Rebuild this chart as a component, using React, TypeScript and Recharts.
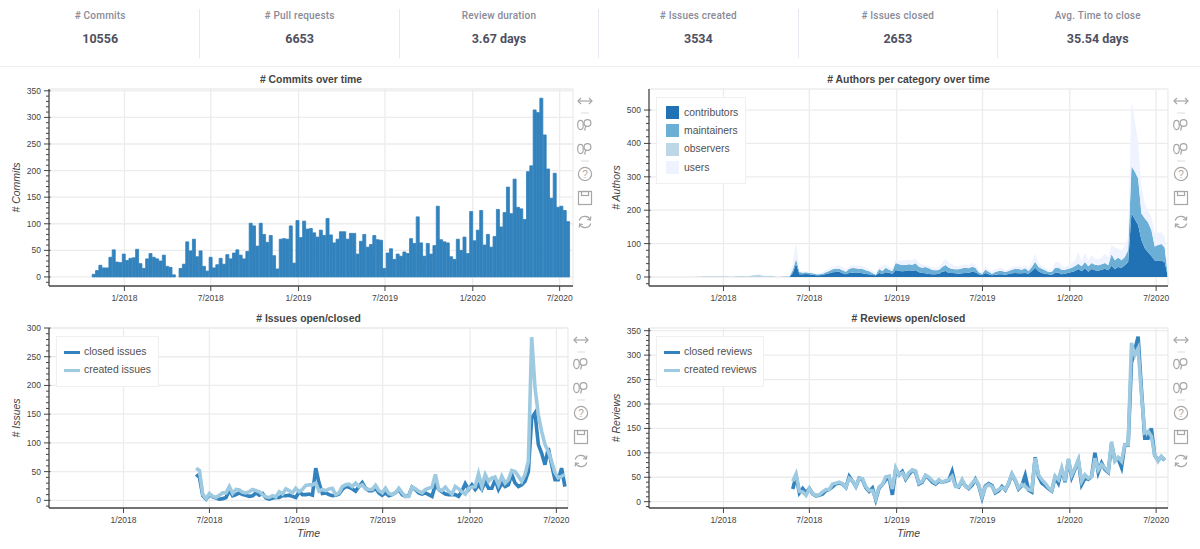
// Repository activity dashboard: stat strip and four weekly charts
import type { ReactNode } from "react";
import {
  Area,
  Bar,
  CartesianGrid,
  ComposedChart,
  Line,
  ReferenceLine,
  XAxis,
  YAxis,
} from "recharts";

// weeks are stored as days since 1/2018
const weekDays = Array.from({ length: 144 }, (_, i) => -64 + i * 7);
const tickDays = [0, 181, 365, 546, 730, 912];
const tickLabels = ["1/2018", "7/2018", "1/2019", "7/2019", "1/2020", "7/2020"];

const statLabels = ["# Commits", "# Pull requests", "Review duration", "# Issues created", "# Issues closed", "Avg. Time to close"];
const statValues = ["10556", "6653", "3.67 days", "3534", "2653", "35.54 days"];

const commits = [
  5, 12, 22, 17, 17, 37, 51, 28, 27, 43, 31, 35, 36, 52, 25, 16, 34, 44, 37, 34,
  30, 41, 20, 18, 4, 0, 16, 24, 66, 49, 71, 38, 49, 20, 11, 37, 17, 23, 35, 24,
  42, 34, 45, 51, 41, 34, 48, 101, 96, 58, 101, 80, 65, 78, 40, 15, 71, 72, 71, 96,
  26, 106, 74, 105, 90, 91, 83, 75, 88, 78, 110, 79, 64, 71, 85, 85, 71, 82, 82, 43,
  67, 80, 56, 61, 78, 70, 69, 16, 45, 53, 33, 43, 39, 47, 44, 72, 63, 113, 64, 39,
  63, 43, 59, 133, 70, 66, 64, 38, 33, 71, 50, 75, 44, 123, 68, 88, 125, 60, 80, 56,
  76, 127, 94, 121, 169, 119, 184, 131, 128, 108, 198, 209, 314, 309, 336, 267, 203, 148, 195, 131,
  133, 125, 104,
];

const contributors = [
  0, 0, 0, 0, 0, 0, 0, 0, 0, 0, 0, 0, 0, 0, 0, 0, 0, 0, 0, 0, 0, 0, 0, 0, 0, 0, 0, 0, 0, 0,
  12, 40, 8, 8, 9, 8, 7, 5, 5, 6, 9, 11, 14, 15, 16, 11, 8, 12, 13, 12,
  13, 11, 9, 8, 6, 5, 12, 10, 14, 13, 10, 21, 18, 17, 18, 20, 19, 20, 14, 12,
  11, 9, 8, 8, 10, 16, 18, 12, 12, 11, 10, 11, 12, 13, 16, 14, 8,
  6, 12, 8, 5, 7, 8, 8, 7, 9, 11, 12, 11, 11, 12, 10, 18, 28, 17, 12, 10,
  8, 7, 12, 13, 8, 10, 13, 15, 18, 24, 17, 26, 16, 24, 20, 19, 22, 25, 20, 34,
  24, 30, 28, 35, 45, 191, 174, 156, 111, 86, 74, 63, 49, 49, 49, 44, 0,
];
const maintainers = [
  0, 0, 0, 0, 0, 0, 0, 0, 0, 0, 0, 0, 0, 0, 0, 0, 0, 0, 0, 0, 0, 0, 0, 0, 0, 0, 0, 0, 0, 0,
  8, 13, 7, 5, 5, 4, 4, 3, 3, 4, 5, 7, 9, 10, 9, 9, 8, 13, 14, 14,
  11, 13, 11, 9, 6, 2, 12, 8, 14, 9, 8, 21, 20, 19, 18, 18, 18, 21, 17, 16,
  19, 17, 13, 12, 11, 14, 18, 16, 12, 12, 13, 15, 16, 13, 15, 14, 6,
  4, 10, 8, 5, 8, 10, 10, 8, 9, 11, 13, 13, 11, 14, 8, 12, 18, 13, 13, 10,
  7, 8, 16, 15, 14, 12, 12, 13, 15, 16, 15, 19, 16, 18, 17, 16, 16, 17, 15, 34,
  26, 28, 22, 25, 35, 140, 142, 140, 79, 90, 89, 78, 42, 47, 50, 44, 0,
];
const observers = [
  0, 1, 1, 2, 2, 2, 2, 2, 2, 2, 2, 1, 1, 2, 3, 3, 2, 3, 5, 6, 7, 4, 3, 4, 3, 1, 0, 2, 3, 3,
  2, 2, 1, 0, 0, 0, 0, 0, 0, 0, 0, 0, 0, 0, 0, 0, 0, 0, 0, 0,
  0, 0, 0, 0, 0, 0, 0, 0, 0, 0, 0, 0, 0, 0, 0, 0, 0, 0, 0, 0,
  0, 0, 0, 0, 0, 0, 0, 0, 0, 0, 0, 0, 0, 0, 0, 0, 0,
  0, 0, 0, 0, 0, 0, 0, 0, 0, 0, 0, 0, 0, 0, 0, 0, 0, 0, 0, 0,
  0, 0, 0, 0, 0, 0, 0, 0, 0, 0, 0, 0, 0, 0, 0, 0, 0, 0, 0, 0,
  0, 0, 0, 0, 0, 0, 0, 0, 0, 0, 0, 0, 0, 0, 0, 0, 0,
];
const users = [
  0, 0, 0, 0, 0, 0, 0, 0, 0, 0, 0, 0, 0, 0, 0, 0, 0, 0, 0, 0, 0, 0, 0, 0, 0, 0, 0, 0, 0, 0,
  18, 50, 3, 3, 3, 3, 3, 0, 4, 5, 6, 7, 7, 8, 10, 10, 6, 7, 8, 9,
  8, 9, 8, 7, 7, 5, 6, 16, 10, 8, 7, 10, 10, 14, 14, 14, 13, 15, 11, 10,
  6, 6, 9, 7, 9, 12, 19, 14, 14, 10, 10, 10, 10, 10, 11, 10, 6,
  4, 10, 8, 8, 9, 8, 8, 5, 6, 8, 8, 8, 8, 10, 10, 15, 24, 12, 9, 7,
  7, 6, 17, 18, 12, 8, 11, 14, 17, 35, 16, 27, 18, 24, 18, 17, 22, 28, 23, 27,
  38, 27, 30, 32, 40, 195, 154, 104, 80, 44, 33, 39, 40, 37, 35, 33, 0,
];

// issues start at week 31, reviews at week 30
const issuesFirstWeek = 31;
const closedIssues = [
  45, 40, 8, 2, 10, 6, 4, 2, 3, 5, 18, 8, 10, 13, 10, 9, 7, 8, 13, 9, 12, 4, 2, 4, 5, 5, 8, 8, 9, 7, 5, 15,
  10, 10, 11, 9, 56, 30, 12, 13, 10, 8, 9, 11, 19, 24, 23, 20, 16, 24, 31, 21,
  17, 17, 21, 13, 9, 13, 8, 10, 13, 19, 10, 7, 8, 23, 19, 13, 11, 13, 10, 7,
  27, 19, 15, 11, 10, 10, 10, 7, 16, 29, 19, 27, 19, 27, 19, 33, 21, 21, 36, 19,
  30, 24, 27, 45, 30, 24, 27, 33, 50, 143, 152, 97, 82, 62, 91, 62, 36, 36, 56, 24,
];
const createdIssues = [
  56, 52, 10, 3, 12, 7, 5, 9, 13, 13, 24, 12, 19, 18, 14, 13, 15, 19, 17, 15, 10, 6, 5, 8, 6, 15, 11, 20, 17, 13, 21, 15,
  19, 26, 27, 27, 30, 16, 19, 17, 20, 21, 10, 13, 24, 27, 28, 24, 30, 24, 27, 20,
  19, 19, 26, 17, 13, 21, 12, 10, 13, 21, 13, 7, 7, 23, 20, 16, 13, 19, 21, 23,
  45, 19, 17, 23, 16, 11, 24, 20, 15, 11, 21, 23, 24, 46, 24, 45, 33, 39, 40, 27,
  42, 30, 36, 52, 50, 42, 33, 45, 68, 284, 196, 149, 120, 97, 85, 68, 48, 39, 42, 45,
];

const reviewsFirstWeek = 30;
const closedReviews = [
  26, 52, 18, 27, 18, 27, 16, 12, 13, 16, 23, 25, 31, 37, 38, 36, 29, 52, 42, 31, 48, 45, 29, 21, 28, 4, 28, 35, 45, 50, 14, 65, 55,
  62, 46, 56, 64, 60, 36, 40, 53, 48, 40, 36, 42, 40, 42, 44, 62, 33, 30, 42, 32,
  27, 34, 46, 33, 8, 32, 37, 33, 18, 22, 31, 24, 37, 56, 43, 26, 33, 54, 24, 20,
  91, 52, 38, 33, 27, 22, 50, 38, 66, 40, 85, 50, 67, 84, 35, 48, 46, 52, 100, 60,
  79, 66, 60, 118, 85, 88, 70, 116, 116, 285, 310, 338, 230, 130, 130, 150, 95, 85, 92, 85,
];
const createdReviews = [
  42, 57, 21, 20, 13, 27, 16, 13, 14, 20, 25, 25, 36, 38, 40, 37, 29, 48, 43, 31, 48, 47, 31, 23, 23, 6, 30, 35, 51, 52, 26, 69, 55,
  59, 48, 60, 65, 63, 38, 42, 54, 50, 43, 38, 45, 40, 43, 45, 52, 31, 31, 45, 31,
  28, 38, 45, 35, 11, 30, 35, 31, 20, 25, 29, 25, 38, 57, 45, 28, 35, 31, 25, 23,
  89, 55, 45, 38, 29, 23, 52, 45, 69, 42, 88, 55, 69, 86, 42, 55, 48, 52, 89, 65,
  76, 69, 62, 123, 83, 91, 83, 117, 117, 325, 300, 314, 220, 141, 144, 134, 96, 83, 93, 86,
];

const commitYTicks = [0, 50, 100, 150, 200, 250, 300, 350];
const authorYTicks = [0, 100, 200, 300, 400, 500];
const issueYTicks = [0, 50, 100, 150, 200, 250, 300];
const reviewYTicks = [0, 50, 100, 150, 200, 250, 300, 350];

const DARK = "#3182bd";
const LIGHT = "#9ecae1";
const GRID = "#ececec";
const AXIS = "#444444";
const TEXT = "#444444";
const FONT = "'Liberation Sans', Arial, sans-serif";
const LINE_WIDTH = 3.6;

const commitRows = weekDays.slice(0, commits.length).map((day, i) => ({ day, commits: commits[i] }));
const authorRows = weekDays.map((day, i) => ({
  day,
  contributors: contributors[i],
  maintainers: maintainers[i],
  observers: observers[i],
  users: users[i],
}));
const issueRows = closedIssues.map((closed, i) => ({
  day: weekDays[i + issuesFirstWeek],
  closed,
  created: createdIssues[i],
}));
const reviewRows = closedReviews.map((closed, i) => ({
  day: weekDays[i + reviewsFirstWeek],
  closed,
  created: createdReviews[i],
}));

// major ticks plus the five-per-interval minor ticks, one below zero too
function withMinor(major: number[]) {
  const step = (major[1] - major[0]) / 5;
  const out: number[] = [-step];
  for (let v = 0; v <= major[major.length - 1]; v += step) out.push(v);
  return out;
}

type PanelProps = {
  title: string;
  yLabel: string;
  showTime?: boolean;
  left: number;
  top: number;
  plotLeft: number;
  plotRight: number;
  plotTop: number;
  plotBottom: number;
  toolbarX: number;
  data: object[];
  xDomain: [number, number];
  yDomain: [number, number];
  yTicks: number[];
  children: ReactNode;
  legend?: ReactNode;
};

function Panel(p: PanelProps) {
  const width = 600;
  const height = p.plotBottom - p.top + 24;
  const minorTicks = withMinor(p.yTicks);
  const center = (p.plotLeft + p.plotRight) / 2;

  return (
    <>
      <div
        style={{
          position: "absolute",
          left: center - 150,
          width: 300,
          top: p.plotTop - 16.5,
          textAlign: "center",
          font: `bold 10.4px ${FONT}`,
          lineHeight: "13px",
          color: "#444",
        }}
      >
        {p.title}
      </div>
      <div style={{ position: "absolute", left: p.left, top: p.top }}>
        <ComposedChart
          width={width}
          height={height}
          data={p.data}
          margin={{ top: p.plotTop - p.top, right: p.left + width - p.plotRight, bottom: 0, left: 0 }}
        >
          <CartesianGrid stroke={GRID} strokeWidth={1.3} horizontalValues={p.yTicks} verticalValues={tickDays} />
          <XAxis
            dataKey="day"
            type="number"
            domain={p.xDomain}
            allowDataOverflow
            ticks={tickDays}
            interval={0}
            tickFormatter={(d: number) => tickLabels[tickDays.indexOf(d)]}
            height={24}
            tickSize={5}
            tickMargin={3.5}
            tick={{ fontSize: 8.5, fill: TEXT, fontFamily: FONT }}
            axisLine={{ stroke: AXIS, strokeWidth: 1.3 }}
            tickLine={{ stroke: AXIS }}
          />
          <YAxis
            type="number"
            domain={p.yDomain}
            allowDataOverflow
            ticks={minorTicks}
            interval={0}
            width={p.plotLeft - p.left}
            tickSize={0}
            tickMargin={0}
            tickLine={false}
            axisLine={{ stroke: AXIS, strokeWidth: 1.3 }}
            label={{
              value: p.yLabel,
              angle: -90,
              position: "insideLeft",
              offset: 16,
              style: { textAnchor: "middle", fontSize: 10.5, fontStyle: "italic", fontFamily: FONT, fill: TEXT },
            }}
            tick={(t: any) => {
              const isMajor = p.yTicks.includes(t.payload.value);
              return (
                <g>
                  <line
                    x1={t.x - (isMajor ? 5 : 3)}
                    x2={t.x + (isMajor ? 1.5 : 0)}
                    y1={t.y}
                    y2={t.y}
                    stroke={AXIS}
                    strokeWidth={1}
                  />
                  {isMajor && (
                    <text x={t.x - 8} y={t.y + 3} textAnchor="end" fontSize={8.5} fontFamily={FONT} fill={TEXT}>
                      {t.payload.value}
                    </text>
                  )}
                </g>
              );
            }}
          />
          <ReferenceLine y={p.yDomain[1]} stroke={GRID} strokeWidth={1.3} ifOverflow="extendDomain" />
          <ReferenceLine x={p.xDomain[1]} stroke={GRID} strokeWidth={1.3} ifOverflow="extendDomain" />
          {p.children}
        </ComposedChart>
      </div>
      {p.showTime && (
        <div
          style={{
            position: "absolute",
            left: center - 50,
            width: 100,
            top: p.plotBottom + 19,
            textAlign: "center",
            font: `italic 10.5px ${FONT}`,
            lineHeight: "13px",
            color: TEXT,
          }}
        >
          Time
        </div>
      )}
      {p.legend}
      <Toolbar x={p.toolbarX} y={p.plotTop} />
    </>
  );
}

type LegendRow = { name: string; color: string };

function BoxLegend(props: {
  left: number;
  top: number;
  width: number;
  height: number;
  rows: LegendRow[];
  rowGap: number;
  line?: boolean;
}) {
  return (
    <div
      style={{
        position: "absolute",
        left: props.left,
        top: props.top,
        width: props.width,
        height: props.height,
        boxSizing: "border-box",
        background: "#fff",
        border: "1px solid #f0f0f0",
      }}
    >
      {props.rows.map((row, i) => (
        <div key={row.name} style={{ position: "absolute", left: 0, top: 8 + i * props.rowGap, height: 14, width: "100%" }}>
          {props.line ? (
            <div style={{ position: "absolute", left: 7, top: 5.5, width: 16, height: 3.6, background: row.color }} />
          ) : (
            <div style={{ position: "absolute", left: 9, top: 0, width: 13, height: 13, background: row.color }} />
          )}
          <span
            style={{
              position: "absolute",
              left: 27,
              top: -0.5,
              font: `10.4px ${FONT}`,
              lineHeight: "14px",
              color: "#505050",
              whiteSpace: "nowrap",
            }}
          >
            {row.name}
          </span>
        </div>
      ))}
    </div>
  );
}

// grey tool icons right of each plot
function Toolbar({ x, y }: { x: number; y: number }) {
  const c = "#a6a6a6";
  const zoomIcon = (cy: number) => (
    <g fill="none" stroke={c} strokeWidth={1.2}>
      <ellipse cx={10.5} cy={cy} rx={2.8} ry={4.6} />
      <circle cx={17.5} cy={cy - 2} r={3.4} />
      <line x1={15.8} y1={cy + 1} x2={14.6} y2={cy + 5.5} />
    </g>
  );
  return (
    <svg
      width={30}
      height={146}
      style={{ position: "absolute", left: x - 15, top: y }}
      viewBox="0 0 30 146"
    >
      <g stroke={c} strokeWidth={1.2} fill="none">
        <line x1={8} y1={12} x2={22} y2={12} />
        <path d="M11 9 L8 12 L11 15 M19 9 L22 12 L19 15" />
        <line x1={11} y1={24} x2={19} y2={24} stroke="#e2e2e2" />
        <line x1={11} y1={72} x2={19} y2={72} stroke="#e2e2e2" />
      </g>
      {zoomIcon(36)}
      {zoomIcon(60)}
      <circle cx={15} cy={85} r={6.6} fill="none" stroke={c} strokeWidth={1.2} />
      <text x={15} y={88.5} textAnchor="middle" fontSize={10} fontFamily={FONT} fill={c}>
        ?
      </text>
      <g fill="none" stroke={c} strokeWidth={1.2}>
        <rect x={8.5} y={102.5} width={13} height={13} />
        <rect x={11.5} y={102.5} width={7} height={4} />
        <path d="M9.2 131.5 A6 6 0 0 1 20.2 130.5 M20.8 134.5 A6 6 0 0 1 9.8 135.5" />
        <path d="M20.8 127.5 L20.4 131 L17 130.5 M9.2 138.5 L9.6 135 L13 135.5" />
      </g>
    </svg>
  );
}

function StatStrip() {
  return (
    <div style={{ position: "absolute", left: 0, top: 0, width: 1200, height: 65.5, borderBottom: "1px solid #eeeef2" }}>
      {statLabels.map((label, i) => (
        <div
          key={label}
          style={{
            position: "absolute",
            left: 1 + i * 199.4,
            top: 9,
            width: 199.4,
            height: 49,
            textAlign: "center",
            fontFamily: "Roboto, sans-serif",
            borderRight: i < statLabels.length - 1 ? "1px solid #e8e8f0" : "none",
            boxSizing: "border-box",
          }}
        >
          <div style={{ fontSize: 10, fontWeight: 500, letterSpacing: 0.2, color: "#8a8a98", lineHeight: "12px", marginTop: 0.5 }}>
            {label}
          </div>
          <div style={{ fontSize: 12.5, fontWeight: 700, color: "#50505f", lineHeight: "15px", marginTop: 9.5 }}>
            {statValues[i]}
          </div>
        </div>
      ))}
    </div>
  );
}

const authorLegend: LegendRow[] = [
  { name: "contributors", color: "#2171b5" },
  { name: "maintainers", color: "#6baed6" },
  { name: "observers", color: "#bdd7e7" },
  { name: "users", color: "#eff3ff" },
];

export default function App() {
  return (
    <div style={{ position: "absolute", left: 0, top: 0, width: 1200, height: 549, overflow: "hidden", background: "#fff" }}>
      <StatStrip />

      <Panel
        title="# Commits over time"
        yLabel="# Commits"
        left={0}
        top={72}
        plotLeft={49}
        plotRight={573}
        plotTop={89}
        plotBottom={286}
        toolbarX={585}
        data={commitRows}
        xDomain={[-158, 940]}
        yDomain={[-17, 353.4]}
        yTicks={commitYTicks}
      >
        <Bar dataKey="commits" fill={DARK} stroke={DARK} strokeWidth={0.8} barSize={3.4} isAnimationActive={false} />
      </Panel>

      <Panel
        title="# Authors per category over time"
        yLabel="# Authors"
        left={600}
        top={72}
        plotLeft={649}
        plotRight={1168}
        plotTop={89}
        plotBottom={286}
        toolbarX={1181}
        data={authorRows}
        xDomain={[-157, 937]}
        yDomain={[-27, 563]}
        yTicks={authorYTicks}
        legend={<BoxLegend left={656} top={97} width={90} height={87} rows={authorLegend} rowGap={18.4} />}
      >
        <Area dataKey="contributors" stackId="a" stroke="none" fill="#2171b5" fillOpacity={1} isAnimationActive={false} />
        <Area dataKey="maintainers" stackId="a" stroke="none" fill="#6baed6" fillOpacity={1} isAnimationActive={false} />
        <Area dataKey="observers" stackId="a" stroke="none" fill="#bdd7e7" fillOpacity={1} isAnimationActive={false} />
        <Area dataKey="users" stackId="a" stroke="none" fill="#eff3ff" fillOpacity={1} isAnimationActive={false} />
      </Panel>

      <Panel
        title="# Issues open/closed"
        yLabel="# Issues"
        showTime
        left={0}
        top={310}
        plotLeft={49}
        plotRight={568}
        plotTop={328}
        plotBottom={508}
        toolbarX={581}
        data={issueRows}
        xDomain={[-157, 936.5]}
        yDomain={[-13.3, 300]}
        yTicks={issueYTicks}
        legend={
          <BoxLegend
            left={56}
            top={336}
            width={103}
            height={51}
            line
            rows={[
              { name: "closed issues", color: DARK },
              { name: "created issues", color: LIGHT },
            ]}
            rowGap={18.4}
          />
        }
      >
        <Line dataKey="closed" stroke={DARK} strokeWidth={LINE_WIDTH} dot={false} isAnimationActive={false} />
        <Line dataKey="created" stroke={LIGHT} strokeWidth={LINE_WIDTH} dot={false} isAnimationActive={false} />
      </Panel>

      <Panel
        title="# Reviews open/closed"
        yLabel="# Reviews"
        showTime
        left={600}
        top={310}
        plotLeft={649}
        plotRight={1168}
        plotTop={328}
        plotBottom={508}
        toolbarX={1181}
        data={reviewRows}
        xDomain={[-157, 937]}
        yDomain={[-12.9, 355.5]}
        yTicks={reviewYTicks}
        legend={
          <BoxLegend
            left={656}
            top={336}
            width={108}
            height={51}
            line
            rows={[
              { name: "closed reviews", color: DARK },
              { name: "created reviews", color: LIGHT },
            ]}
            rowGap={18.4}
          />
        }
      >
        <Line dataKey="closed" stroke={DARK} strokeWidth={LINE_WIDTH} dot={false} isAnimationActive={false} />
        <Line dataKey="created" stroke={LIGHT} strokeWidth={LINE_WIDTH} dot={false} isAnimationActive={false} />
      </Panel>
    </div>
  );
}
